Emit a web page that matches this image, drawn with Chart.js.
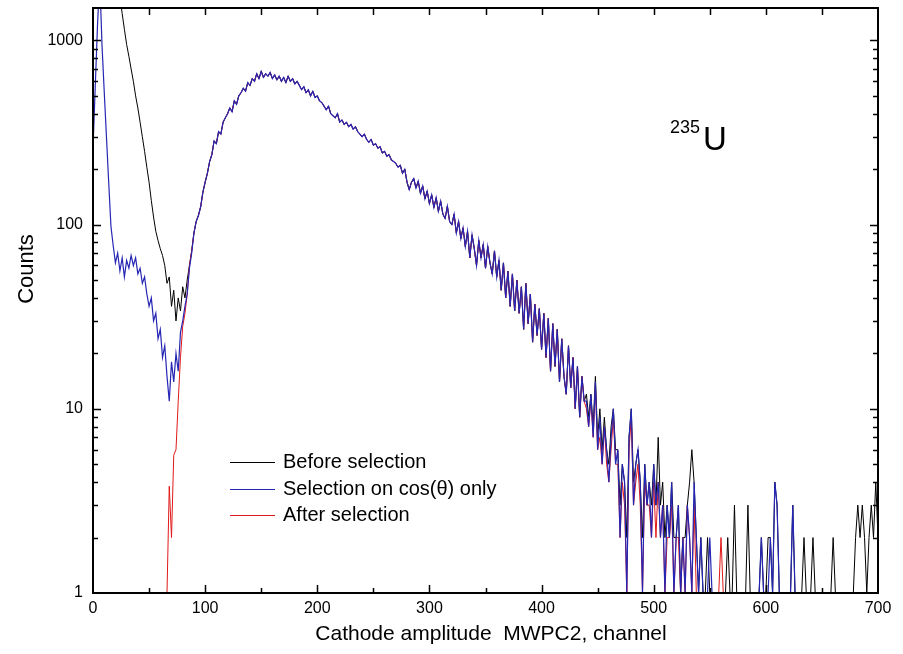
<!DOCTYPE html>
<html>
<head>
<meta charset="utf-8">
<script src="https://cdn.jsdelivr.net/npm/chart.js@4"></script>
<style>
    html, body { margin: 0; padding: 0; background: #fff; }
    #wrap { position: relative; width: 903px; height: 654px; }
</style>
</head>
<body>
<div id="wrap"><canvas id="grafic"></canvas></div>
<script>
// channels 0..700, every 2nd channel
const canals = [];
for (let c = 0; c <= 700; c += 2) canals.push(c);

// low part, channels 0..88
const lowBefore = [6000, 7000, 8000, 8000, 7000, 6000, 5000, 4200, 3600, 3000,
    2500, 2100, 1750, 1400, 1150, 950, 820, 700, 600, 500,
    430, 360, 300, 250, 205, 170, 135, 110, 92, 82,
    74, 68, 60, 48, 52, 36, 44, 30, 40, 34,
    46, 40, 50, 60, 72];
const lowCos = [260, 560, 1200, 2200, 950, 530, 300, 170, 98, 77,
    62, 70, 56, 66, 52, 64, 58, 68, 60, 66,
    54, 58, 48, 52, 42, 36, 40, 30, 33, 24,
    27, 19, 22, 15, 11, 18, 14, 20, 16, 26,
    30, 36, 42, 58, 70];
const lowAfter = [null, null, null, null, null, null, null, null, null, null,
    null, null, null, null, null, null, null, null, null, null,
    null, null, null, null, null, null, null, null, null, null,
    null, null, null, 1, 3.8, 2, 5.6, 6, 11, 19,
    28, 33, 42, 60, 72];

// main peak, channels 90..438, same for the three spectra
const shared = [90, 104, 112, 125, 150, 170, 190, 220, 240, 285,
    275, 320, 310, 360, 380, 400, 430, 410, 470, 450,
    500, 520, 550, 530, 590, 570, 620, 600, 660, 620,
    680, 630, 660, 640, 670, 620, 650, 610, 640, 600,
    630, 590, 640, 600, 620, 580, 600, 570, 540, 560,
    520, 540, 500, 530, 490, 500, 470, 460, 440, 420,
    440, 400, 390, 380, 400, 360, 370, 350, 360, 340,
    350, 330, 340, 320, 310, 300, 310, 290, 280, 290,
    270, 275, 260, 265, 245, 250, 235, 240, 225, 220,
    215, 205, 210, 190, 200, 170, 155, 170, 178, 158,
    172, 148, 162, 138, 152, 130, 145, 124, 140, 118,
    134, 114, 108, 126, 104, 100, 114, 90, 104, 84,
    96, 76, 92, 66, 88, 74, 60, 82, 66, 78,
    58, 76, 62, 54, 72, 52, 64, 44, 62, 40,
    56, 36, 54, 34, 50, 33, 46, 27, 48, 29,
    42, 23, 37, 25, 35, 21, 33, 19, 31, 16,
    29, 17, 27, 14, 24, 15, 12, 22, 13, 19,
    10, 17, 9, 15, 11];

// tail, channels 440..700
const tailBefore = [12, 9, 12, 8, 15, 7, 10, 6, 9, 6,
    5, 8, 10, 6, 6, 3, 5, 4, 2, 7,
    10, 4, 5, 6, 4, 2, 5, 3, 4, 3,
    5, 3, 7, 3, 4, 2, 3, 2, 4, 2,
    2, 3, 1, 2, 2, 3, 4, 6, 4, 2,
    1, 2, 1, 1, 2, 1, 1, 1, 1, 1,
    1, 1, 1, 2, 1, 1, 3, 1, 1, 1,
    1, 1, 3, 1, 1, 1, 1, 1, 2, 1,
    1, 2, 2, 1, 4, 3, 1, 1, 1, 1,
    1, 1, 3, 1, 1, 1, 1, 2, 1, 1,
    1, 2, 1, 1, 1, 1, 1, 1, 1, 1,
    2, 1, 1, 1, 1, 1, 1, 1, 1, 1,
    2, 3, 2, 3, 2, 1, 2, 3, 2, 4,
    2];
const tailCos = [11, 8, 12, 7, 14, 6, 9, 5, 8, 6,
    4, 7, 10, 5, 6, 2, 5, 4, 1, 7,
    10, 3, 5, 6, 4, 1, 5, 3, 4, 2,
    5, 3, 4, 2, 3, 1, 3, 2, 4, 1,
    2, 3, 1, 2, 1, 3, 2, 1, 4, 2,
    1, 2, 1, 1, 1, 2, 1, 1, 1, 1,
    1, 1, 1, 1, 1, 1, 1, 1, 1, 1,
    1, 1, 1, 1, 1, 1, 1, 1, 2, 1,
    1, 1, 2, 1, 4, 3, 1, 1, 1, 1,
    1, 1, 3, 1, 1, 1, 1, 1, 1, 1,
    1, 1, 1, 1, 1, 1, 1, 1, 1, 1,
    1, 1, 1, 1, 1, 1, 1, 1, 1, 1,
    1, 1, 1, 1, 1, 1, 1, 1, 1, 1,
    1];
const tailAfter = [10, 8, 11, 7, 13, 6, 7, 5, 8, 5,
    4, 6, 9, 5, 5, 2, 4, 3, 1, 6,
    9, 3, 4, 5, 3, 1, 4, 3, 3, 2,
    4, 2, 4, 2, 3, 1, 2, 2, 3, 1,
    2, 2, 1, 2, 1, 3, 2, 1, 3, 1,
    1, 1, 1, 1, 1, 1, 1, 1, 1, 1,
    2, 1, 1, 1, 1, 1, 1, 1, 1, 1,
    1, 1, 1, 1, 1, 1, 1, 1, 1, 1,
    1, 1, 1, 1, 1, 1, 1, 1, 1, 1,
    1, 1, 1, 1, 1, 1, 1, 1, 1, 1,
    1, 1, 1, 1, 1, 1, 1, 1, 1, 1,
    1, 1, 1, 1, 1, 1, 1, 1, 1, 1,
    1, 1, 1, 1, 1, 1, 1, 1, 1, 1,
    1];

const xTicks = [0, 100, 200, 300, 400, 500, 600, 700];
const yTicks = [1, 10, 100, 1000];
const legendNames = ['Before selection', 'Selection on cos(\u03b8) only', 'After selection'];

const colBefore = '#000000';
const colCos = '#2626b4';
const colAfter = '#e01818';
const fontName = "'Liberation Sans', Arial, sans-serif";

function punts(values) {
    return canals.map((c, i) => ({ x: c, y: values[i] }));
}

const before = lowBefore.concat(shared, tailBefore);
const cosOnly = lowCos.concat(shared, tailCos);
const after = lowAfter.concat(shared, tailAfter);

// frame with inward ticks on all four sides + texts
const marc = {
    id: 'marc',
    afterDatasetsDraw(chart) {
        const ctx = chart.ctx;
        const a = chart.chartArea;
        const sx = chart.scales.x;
        const sy = chart.scales.y;
        ctx.save();
        ctx.strokeStyle = '#000';
        ctx.lineWidth = 1.5;
        ctx.beginPath();
        for (let v = 50; v < 700; v += 50) {
            let px = Math.round(sx.getPixelForValue(v)) + 0.5;
            let len = v % 100 == 0 ? 8 : 5;
            ctx.moveTo(px, a.bottom); ctx.lineTo(px, a.bottom - len);
            ctx.moveTo(px, a.top); ctx.lineTo(px, a.top + 7);
        }
        for (let d = 1; d <= 1000; d *= 10) {
            for (let m = 1; m <= 9; m++) {
                let v = d * m;
                if (v <= 1 || v > 1500) continue;
                let py = Math.round(sy.getPixelForValue(v)) + 0.5;
                let len = m == 1 ? 8 : 5;
                ctx.moveTo(a.left, py); ctx.lineTo(a.left + len, py);
                ctx.moveTo(a.right, py); ctx.lineTo(a.right - len, py);
            }
        }
        ctx.stroke();
        ctx.lineWidth = 2;
        ctx.strokeRect(a.left, a.top, a.right - a.left, a.bottom - a.top);

        // legend
        const ly = [462, 489, 515];
        const lc = [colBefore, colCos, colAfter];
        ctx.lineWidth = 1;
        ctx.font = '20px ' + fontName;
        ctx.fillStyle = '#000';
        ctx.textBaseline = 'middle';
        ctx.textAlign = 'left';
        for (let i = 0; i < 3; i++) {
            ctx.strokeStyle = lc[i];
            ctx.beginPath();
            ctx.moveTo(230, ly[i] + 0.5); ctx.lineTo(275, ly[i] + 0.5);
            ctx.stroke();
            ctx.fillText(legendNames[i], 283, ly[i]);
        }

        // isotope label
        ctx.textBaseline = 'alphabetic';
        ctx.font = '18px ' + fontName;
        ctx.fillText('235', 670, 133);
        ctx.font = '33px ' + fontName;
        ctx.fillText('U', 703, 150);

        // axis titles
        ctx.textAlign = 'center';
        ctx.font = '21px ' + fontName;
        ctx.fillText('Cathode amplitude  MWPC2, channel', 491, 640);
        ctx.translate(27, 269);
        ctx.rotate(-Math.PI / 2);
        ctx.textBaseline = 'middle';
        ctx.font = '22px ' + fontName;
        ctx.fillText('Counts', 0, 0);
        ctx.restore();
    }
};

const ctx = document.getElementById('grafic').getContext('2d');
const grafic = new Chart(ctx, {
    type: 'line',
    data: {
        datasets: [{
                label: legendNames[0],
                data: punts(before),
                borderColor: colBefore,
                borderWidth: 1,
                order: 2
            },
            {
                label: legendNames[1],
                data: punts(cosOnly),
                borderColor: colCos,
                borderWidth: 1.2,
                order: 0
            },
            {
                label: legendNames[2],
                data: punts(after),
                borderColor: colAfter,
                borderWidth: 1,
                order: 1
            }
        ]
    },
    options: {
        responsive: true,
        maintainAspectRatio: false,
        animation: false,
        elements: { point: { radius: 0 }, line: { tension: 0 } },
        layout: { padding: { left: 0, top: 8, right: 25, bottom: 0 } },
        plugins: { legend: { display: false }, tooltip: { enabled: false } },
        scales: {
            x: {
                type: 'linear',
                min: 0,
                max: 700,
                grid: { display: false, drawTicks: false },
                border: { display: false },
                afterBuildTicks: s => { s.ticks = xTicks.map(v => ({ value: v })); },
                afterFit: s => { s.height = 61; s.paddingLeft = 0; s.paddingRight = 0; },
                ticks: { color: '#000', padding: 6, maxRotation: 0, font: { family: fontName, size: 16 } }
            },
            y: {
                type: 'logarithmic',
                min: 1,
                max: 1500,
                grid: { display: false, drawTicks: false },
                border: { display: false },
                afterBuildTicks: s => { s.ticks = yTicks.map(v => ({ value: v })); },
                afterFit: s => { s.width = 93; s.paddingTop = 0; s.paddingBottom = 0; },
                ticks: { color: '#000', padding: 10, font: { family: fontName, size: 16 }, callback: v => String(v) }
            }
        }
    },
    plugins: [marc]
});
</script>
</body>
</html>
